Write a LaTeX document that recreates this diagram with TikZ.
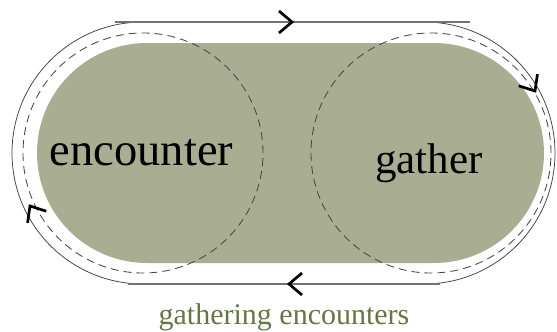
\documentclass[tikz,border=0pt]{standalone}
\usepackage{fontspec}
\setmainfont{Liberation Serif}
\definecolor{pillfill}{RGB}{169,173,146}
\definecolor{captiongreen}{RGB}{102,118,68}
\begin{document}
\begin{tikzpicture}[x=1pt,y=-1pt,
  track/.style={draw=black!75, line width=0.75pt},
  rail/.style={draw=black!55, line width=1.1pt},
  loopring/.style={draw=black!72, dash pattern=on 8pt off 5pt, line width=0.85pt},
  chev/.style={draw=black, line width=2.7pt, line join=miter},
  wordtag/.style={text=black, inner sep=0pt, anchor=base}
]
\useasboundingbox (0,0) rectangle (557,332);

% the pill-shaped field
\fill[pillfill, rounded corners=110pt] (37,43) rectangle (544,263);

% the two dashed loops
\draw[loopring] (143,153) circle[radius=120pt];
\draw[loopring] (431,153) circle[radius=120pt];

% outer track: half circles joined by straight rails
\begin{scope}
  \clip (0,0) rectangle (143,332);
  \draw[track] (143,153) circle[radius=131pt];
\end{scope}
\begin{scope}
  \clip (424,0) rectangle (557,332);
  \draw[track] (424,153) circle[radius=131pt];
\end{scope}
\draw[rail] (115,22) -- (470,22);
\draw[rail] (128,284) -- (440,284);

% direction marks along the track (clockwise)
\draw[chev, shift={(292,22)}] (-13,-11) -- (0,0) -- (-13,11);
\draw[chev, shift={(535,91)}, rotate=-58] (-13,-11) -- (0,0) -- (-13,11);
\draw[chev, shift={(289,284)}, rotate=180] (-13,-11) -- (0,0) -- (-13,11);
\draw[chev, shift={(30,206)}, rotate=122] (-13,-11) -- (0,0) -- (-13,11);

% words
\node[wordtag, font=\fontsize{46.5}{50}\selectfont] (enc) at (141.5,165) {encounter};
\node[wordtag, font=\fontsize{43}{48}\selectfont] (gat) at (429,173) {gather};
\node[wordtag, font=\fontsize{30}{34}\selectfont, text=captiongreen] (cap) at (284,324) {gathering encounters};
\end{tikzpicture}
\end{document}
